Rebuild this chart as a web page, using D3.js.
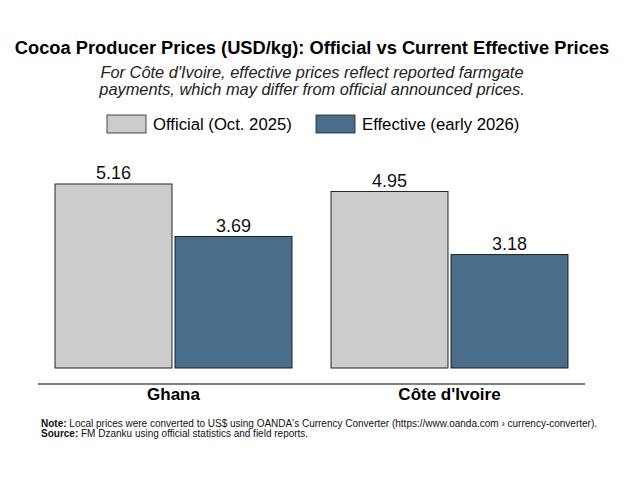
<!DOCTYPE html>
<html>
<head>
<meta charset="utf-8">
<script src="https://cdn.jsdelivr.net/npm/d3@7.9.0/dist/d3.min.js"></script>
<style>
  body { margin: 0; background: #fff; }
  svg { font-family: "Liberation Sans", Arial, sans-serif; }
</style>
</head>
<body>
<svg id="chart" width="624" height="480"></svg>
<script>
// chart data
const countries = ['Ghana', "Côte d'Ivoire"];
const seriesNames = ['Official (Oct. 2025)', 'Effective (early 2026)'];
const officialPrices = [5.16, 4.95];
const effectivePrices = [3.69, 3.18];
const seriesColors = ['#cccccc', '#4a6d8c'];

const svg = d3.select('#chart');
const W = 624;

const rows = countries.map((c, i) => ({
  country: c,
  values: [officialPrices[i], effectivePrices[i]]
}));

// scales
const x0 = d3.scaleBand()
  .domain(countries)
  .range([38, 585])
  .paddingInner(0.1413)
  .paddingOuter(0.0616);

const x1 = d3.scaleBand()
  .domain(d3.range(seriesNames.length))
  .range([0, x0.bandwidth()])
  .paddingInner(0.025);

const y = d3.scaleLinear()
  .domain([0, 5.5])
  .range([368, 368 - 5.5 * 35.66]);

// title + subtitle
svg.append('text')
  .attr('x', W / 2).attr('y', 54)
  .attr('text-anchor', 'middle')
  .attr('font-size', 18.3).attr('font-weight', 'bold')
  .text('Cocoa Producer Prices (USD/kg): Official vs Current Effective Prices');

const subtitle = ["For Côte d'Ivoire, effective prices reflect reported farmgate",
  'payments, which may differ from official announced prices.'];
svg.append('g').selectAll('text')
  .data(subtitle)
  .join('text')
  .attr('x', W / 2)
  .attr('y', (d, i) => 78 + i * 17)
  .attr('text-anchor', 'middle')
  .attr('font-size', 16.4).attr('font-style', 'italic')
  .attr('fill', '#222')
  .text(d => d);

// legend
const legendX = [107, 316];
const legend = svg.append('g').selectAll('g')
  .data(seriesNames)
  .join('g')
  .attr('transform', (d, i) => `translate(${legendX[i]},115)`);
legend.append('rect')
  .attr('width', 39).attr('height', 18)
  .attr('fill', (d, i) => seriesColors[i])
  .attr('stroke', '#222').attr('stroke-width', 0.8);
legend.append('text')
  .attr('x', 46).attr('y', 14.5)
  .attr('font-size', 16.7)
  .text(d => d);

// bars
const groups = svg.append('g').selectAll('g')
  .data(rows)
  .join('g')
  .attr('transform', d => `translate(${x0(d.country)},0)`);

groups.selectAll('rect')
  .data(d => d.values.map((v, i) => ({ v, i })))
  .join('rect')
  .attr('x', d => x1(d.i))
  .attr('width', x1.bandwidth())
  .attr('y', d => y(d.v))
  .attr('height', d => y(0) - y(d.v))
  .attr('fill', d => seriesColors[d.i])
  .attr('stroke', '#111').attr('stroke-width', 0.9);

groups.selectAll('text')
  .data(d => d.values.map((v, i) => ({ v, i })))
  .join('text')
  .attr('x', d => x1(d.i) + x1.bandwidth() / 2)
  .attr('y', d => y(d.v) - 4.5)
  .attr('text-anchor', 'middle')
  .attr('font-size', 18)
  .attr('fill', '#111')
  .text(d => d.v.toFixed(2));

// x axis
const xAxis = svg.append('g')
  .attr('transform', 'translate(0,384)')
  .call(d3.axisBottom(x0).tickSize(0).tickPadding(4));
xAxis.select('.domain').attr('stroke', '#000').attr('stroke-width', 1)
  .attr('d', 'M38,0H585');
xAxis.selectAll('text')
  .attr('font-size', 17).attr('font-weight', 'bold')
  .attr('font-family', '"Liberation Sans", Arial, sans-serif')
  .attr('fill', '#000');

// footnotes
const notes = [
  ['Note:', " Local prices were converted to US$ using OANDA's Currency Converter (https://www.oanda.com › currency-converter)."],
  ['Source:', ' FM Dzanku using official statistics and field reports.']
];
const noteText = svg.append('g').selectAll('text')
  .data(notes)
  .join('text')
  .attr('x', 41)
  .attr('y', (d, i) => 427 + i * 10)
  .attr('font-size', 10)
  .attr('fill', '#111');
noteText.append('tspan').attr('font-weight', 'bold').text(d => d[0]);
noteText.append('tspan').text(d => d[1]);
</script>
</body>
</html>
